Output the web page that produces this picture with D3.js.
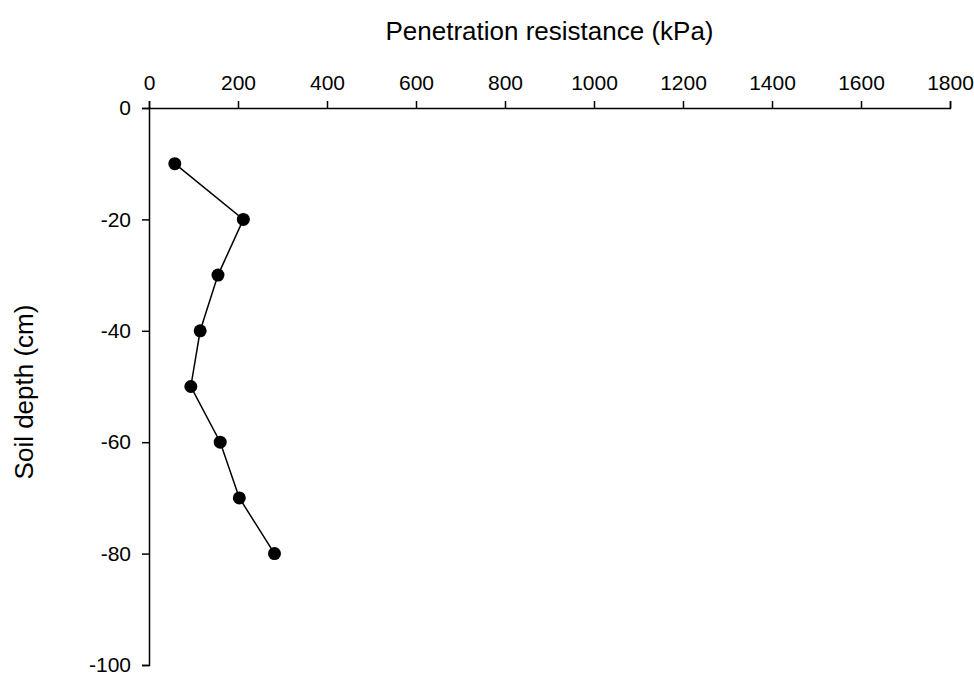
<!DOCTYPE html>
<html>
<head>
<meta charset="utf-8">
<script src="https://cdn.jsdelivr.net/npm/d3@7"></script>
<style>
  body { margin: 0; background: #fff; }
  svg { display: block; }
</style>
</head>
<body>
<svg width="974" height="674"></svg>
<script>
const width = 974
const height = 674
const font = 'Liberation Sans, Arial, Helvetica, sans-serif'

// penetration resistance (kPa) at each depth (cm)
const depths = [-10, -20, -30, -40, -50, -60, -70, -80]
const resistance = [58, 212, 155, 115, 94, 160, 203, 282]
const xTicks = [0, 200, 400, 600, 800, 1000, 1200, 1400, 1600, 1800]
const yTicks = [0, -20, -40, -60, -80, -100]

const margin = { top: 108, right: 24, bottom: 9, left: 149 }

const svg = d3.select('svg').attr('font-family', font)

const x = d3.scaleLinear()
  .domain([0, 1800])
  .range([margin.left, width - margin.right])

const y = d3.scaleLinear()
  .domain([0, -100])
  .range([margin.top, height - margin.bottom])

const data = depths.map((d, i) => ({ depth: d, value: resistance[i] }))

// plain hyphen minus, no thousands separators
const fmt = d => String(d)

// top axis
const xAxis = svg.append('g')
  .attr('transform', `translate(0,${y(0)})`)
  .call(d3.axisTop(x).tickValues(xTicks).tickFormat(fmt)
    .tickSizeOuter(0).tickSize(7).tickPadding(11))
xAxis.attr('font-family', font)
xAxis.select('.domain').attr('stroke-width', 1.5)
xAxis.selectAll('.tick line').attr('stroke-width', 1.5)
xAxis.selectAll('.tick text').attr('font-size', 21).attr('fill', '#000')

// left axis
const yAxis = svg.append('g')
  .attr('transform', `translate(${x(0)},0)`)
  .call(d3.axisLeft(y).tickValues(yTicks).tickFormat(fmt)
    .tickSizeOuter(0).tickSize(7).tickPadding(11))
yAxis.attr('font-family', font)
yAxis.select('.domain').attr('stroke-width', 1.5)
yAxis.selectAll('.tick line').attr('stroke-width', 1.5)
yAxis.selectAll('.tick text').attr('font-size', 21).attr('fill', '#000')

// axis titles
svg.append('text')
  .attr('x', (x.range()[0] + x.range()[1]) / 2)
  .attr('y', 40)
  .attr('text-anchor', 'middle')
  .attr('font-size', 26)
  .text('Penetration resistance (kPa)')

svg.append('text')
  .attr('transform', 'translate(33,392) rotate(-90)')
  .attr('text-anchor', 'middle')
  .attr('font-size', 26)
  .text('Soil depth (cm)')

// profile line
const line = d3.line()
  .x(d => x(d.value))
  .y(d => y(d.depth))

svg.append('path')
  .datum(data)
  .attr('fill', 'none')
  .attr('stroke', '#000')
  .attr('stroke-width', 1.5)
  .attr('d', line)

svg.append('g')
  .selectAll('circle')
  .data(data)
  .join('circle')
  .attr('cx', d => x(d.value))
  .attr('cy', d => y(d.depth))
  .attr('r', 6.5)
  .attr('fill', '#000')
</script>
</body>
</html>
